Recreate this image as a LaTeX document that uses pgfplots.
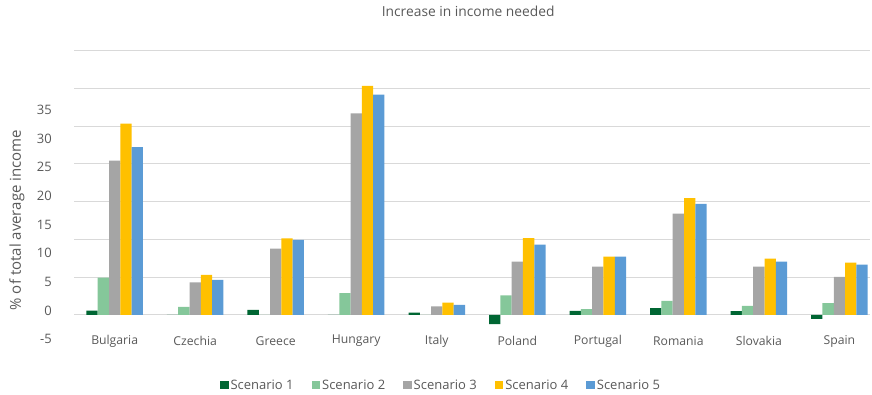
\documentclass[border=0pt]{standalone}
\usepackage{fontspec}
\setmainfont{Open Sans}
\usepackage{pgfplots}
\pgfplotsset{compat=1.18}
\definecolor{sone}{RGB}{0,102,51}
\definecolor{stwo}{RGB}{133,199,154}
\definecolor{sthree}{RGB}{165,165,165}
\definecolor{sfour}{RGB}{255,192,0}
\definecolor{sfive}{RGB}{91,155,213}
\definecolor{txt}{RGB}{89,89,89}
\definecolor{grd}{RGB}{217,217,217}
\begin{document}
\begin{tikzpicture}
\useasboundingbox (-74.4pt,-48.6pt) rectangle (797.6pt,346.4pt);
\begin{axis}[
  at={(0pt,0pt)}, anchor=south west,
  scale only axis, width=795.6pt, height=297.1pt,
  ybar=0pt, bar width=11.3pt,
  xmin=-0.5, xmax=9.38, ymin=-5.5, ymax=46.4,
  xtick={0,...,9},
  xticklabels={Bulgaria,Czechia,Greece,Hungary,Italy,Poland,Portugal,Romania,Slovakia,Spain},
  xticklabel style={anchor=center, yshift=5.4pt, font=\fontsize{12.2}{14}\selectfont, text=txt},
  ytick={-5,0,5,10,15,20,25,30,35},
  yticklabel style={xshift=-19pt, yshift=4.5pt, font=\fontsize{13}{14}\selectfont, text=txt},
  /pgf/number format/assume math mode=true,
  extra y ticks={0,6.598,13.196,19.794,26.392,32.99,39.588,46.186},
  extra y tick labels={},
  extra y tick style={grid=major, major tick length=0pt},
  major grid style={draw=grd, line width=1pt},
  axis line style={draw=none},
  major tick length=0pt,
  ylabel={\% of total average income},
  ylabel style={at={(axis description cs:-0.0722,0.4255)}, anchor=center, font=\fontsize{15}{16}\selectfont, text=txt},
  title={Increase in income needed},
  title style={at={(axis description cs:0.495,1)}, anchor=center, yshift=32pt, font=\fontsize{13.8}{16}\selectfont, text=txt},
  legend columns=5,
  legend style={draw=none, fill=none, at={(axis description cs:0.4608,-0.133)}, anchor=center,
    font=\fontsize{13}{15}\selectfont, text=txt,
    /tikz/every even column/.append style={column sep=16pt}},
  legend image code/.code={\fill[#1] (0pt,-3.5pt) rectangle (8.5pt,5pt);},
  clip=false,
]
\addplot[fill=sone, draw=none] coordinates {(0,0.75) (1,0) (2,0.9) (3,0) (4,0.4) (5,-1.6) (6,0.7) (7,1.2) (8,0.65) (9,-0.7)};
\addplot[fill=stwo, draw=none] coordinates {(0,6.5) (1,1.4) (2,0) (3,3.8) (4,0) (5,3.4) (6,1.0) (7,2.45) (8,1.6) (9,2.05)};
\addplot[fill=sthree, draw=none] coordinates {(0,26.95) (1,5.7) (2,11.6) (3,35.2) (4,1.5) (5,9.3) (6,8.45) (7,17.7) (8,8.45) (9,6.65)};
\addplot[fill=sfour, draw=none] coordinates {(0,33.4) (1,7.0) (2,13.35) (3,40.0) (4,2.15) (5,13.4) (6,10.2) (7,20.4) (8,9.85) (9,9.15)};
\addplot[fill=sfive, draw=none] coordinates {(0,29.3) (1,6.1) (2,13.1) (3,38.5) (4,1.75) (5,12.3) (6,10.2) (7,19.4) (8,9.3) (9,8.8)};
\legend{Scenario 1,Scenario 2,Scenario 3,Scenario 4,Scenario 5}
\end{axis}
\end{tikzpicture}
\end{document}
